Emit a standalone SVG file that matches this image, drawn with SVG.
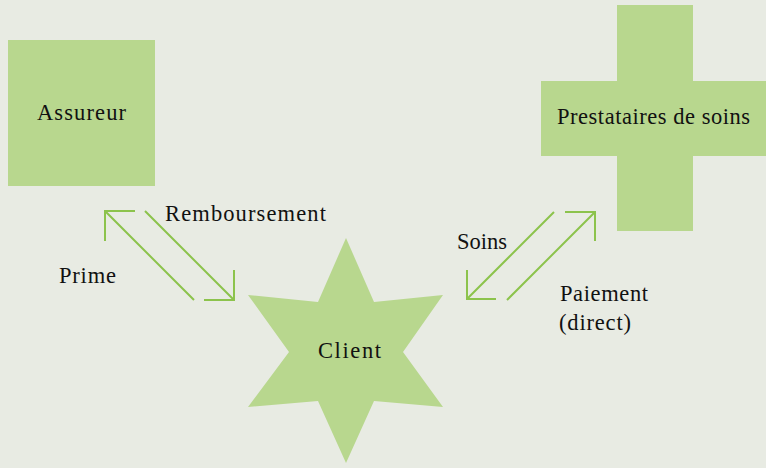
<svg xmlns="http://www.w3.org/2000/svg" width="766" height="468" viewBox="0 0 766 468">
<style>
.shape{fill:#b8d78e;stroke:none}
.lbl{font-family:"Liberation Serif","Times New Roman",serif;font-size:22.5px;fill:#111}
.conn{fill:none;stroke:#8cc34c;stroke-width:2}
</style>
<rect width="766" height="468" fill="#e8ebe3"/>
<g id="assureur">
<rect class="shape" x="8" y="40" width="147" height="146"/>
<text class="lbl" x="37" y="120" textLength="89" lengthAdjust="spacing">Assureur</text>
</g>
<g id="prestataires">
<path class="shape" d="M617 5H693V81H766V156H693V231H617V156H541V81H617Z"/>
<text class="lbl" x="557" y="124" textLength="193" lengthAdjust="spacing">Prestataires de soins</text>
</g>
<g id="client">
<polygon class="shape" points="346,238 374,302 443,295 403,352 443,407 374,401 346,463 318,401 248,407 289,352 248,295 318,302"/>
<text class="lbl" x="318" y="358" textLength="63" lengthAdjust="spacing">Client</text>
</g>
<g id="connectors">
<path class="conn" d="M194 300L105 211M105 241V211H135"/>
<path class="conn" d="M145 211L234 300M204 300H234V270"/>
<path class="conn" d="M554 212L467 299M467 270V299H496"/>
<path class="conn" d="M507 300L595 212M565 212H595V241"/>
</g>
<g id="labels">
<text class="lbl" x="165" y="221" textLength="161" lengthAdjust="spacing">Remboursement</text>
<text class="lbl" x="59" y="283" textLength="57" lengthAdjust="spacing">Prime</text>
<text class="lbl" x="457" y="249" textLength="50" lengthAdjust="spacing">Soins</text>
<text class="lbl" x="560" y="301" textLength="88" lengthAdjust="spacing">Paiement</text>
<text class="lbl" x="559" y="330" textLength="72" lengthAdjust="spacing">(direct)</text>
</g>
</svg>
